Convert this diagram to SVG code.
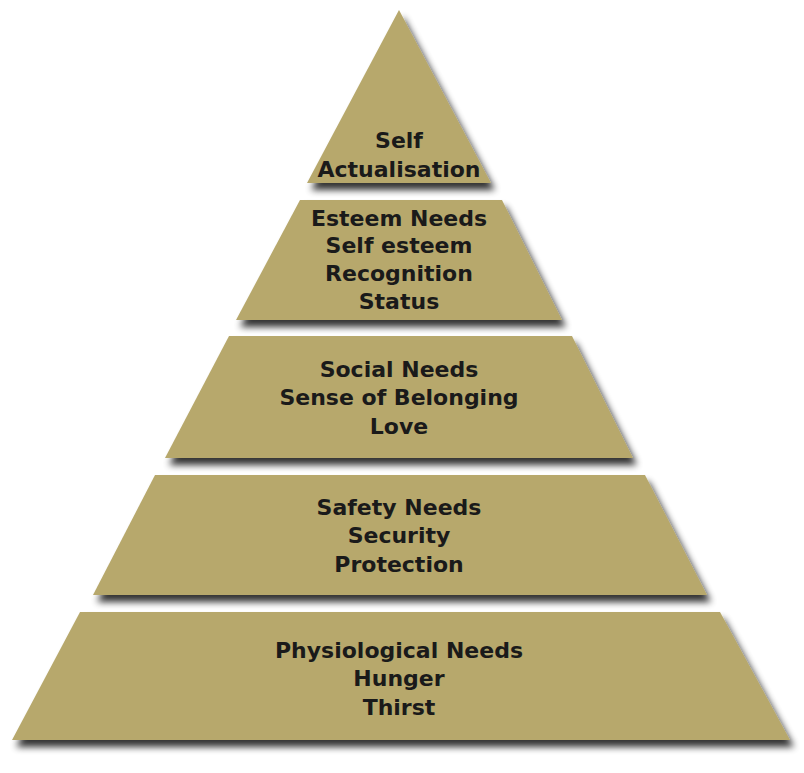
<svg xmlns="http://www.w3.org/2000/svg" width="804" height="773" viewBox="0 0 804 773">
<defs>
<filter id="sh" x="-10%" y="-20%" width="125%" height="160%">
<feGaussianBlur in="SourceAlpha" stdDeviation="3.5"/>
<feOffset dx="4" dy="7" result="b"/>
<feComponentTransfer><feFuncA type="linear" slope="0.8"/></feComponentTransfer>
<feMerge><feMergeNode/><feMergeNode in="SourceGraphic"/></feMerge>
</filter>
</defs>
<style>
.tier{fill:#b7a86c;filter:url(#sh)}
.lbl{font-family:"DejaVu Sans","Liberation Sans",sans-serif;font-weight:bold;font-size:22px;fill:#1a1a1a;text-anchor:middle}
</style>
<rect width="804" height="773" fill="#ffffff"/>
<g id="self-actualisation">
<polygon class="tier" points="399,10 491,183 307,183"/>
<text class="lbl" x="399" y="148">Self</text>
<text class="lbl" x="399" y="177">Actualisation</text>
</g>
<g id="esteem">
<polygon class="tier" points="300,200 502,200 562,320 236,320"/>
<text class="lbl" x="399" y="226">Esteem Needs</text>
<text class="lbl" x="399" y="253">Self esteem</text>
<text class="lbl" x="399" y="281">Recognition</text>
<text class="lbl" x="399" y="309">Status</text>
</g>
<g id="social">
<polygon class="tier" points="229,336 572,336 633,458 165,458"/>
<text class="lbl" x="399" y="377">Social Needs</text>
<text class="lbl" x="399" y="405">Sense of Belonging</text>
<text class="lbl" x="399" y="434">Love</text>
</g>
<g id="safety">
<polygon class="tier" points="155,475 645,475 707,595 93,595"/>
<text class="lbl" x="399" y="515">Safety Needs</text>
<text class="lbl" x="399" y="543">Security</text>
<text class="lbl" x="399" y="572">Protection</text>
</g>
<g id="physiological">
<polygon class="tier" points="80,612 720,612 790,740 12,740"/>
<text class="lbl" x="399" y="658">Physiological Needs</text>
<text class="lbl" x="399" y="686">Hunger</text>
<text class="lbl" x="399" y="715">Thirst</text>
</g>
<g id="connectors"/>
</svg>
